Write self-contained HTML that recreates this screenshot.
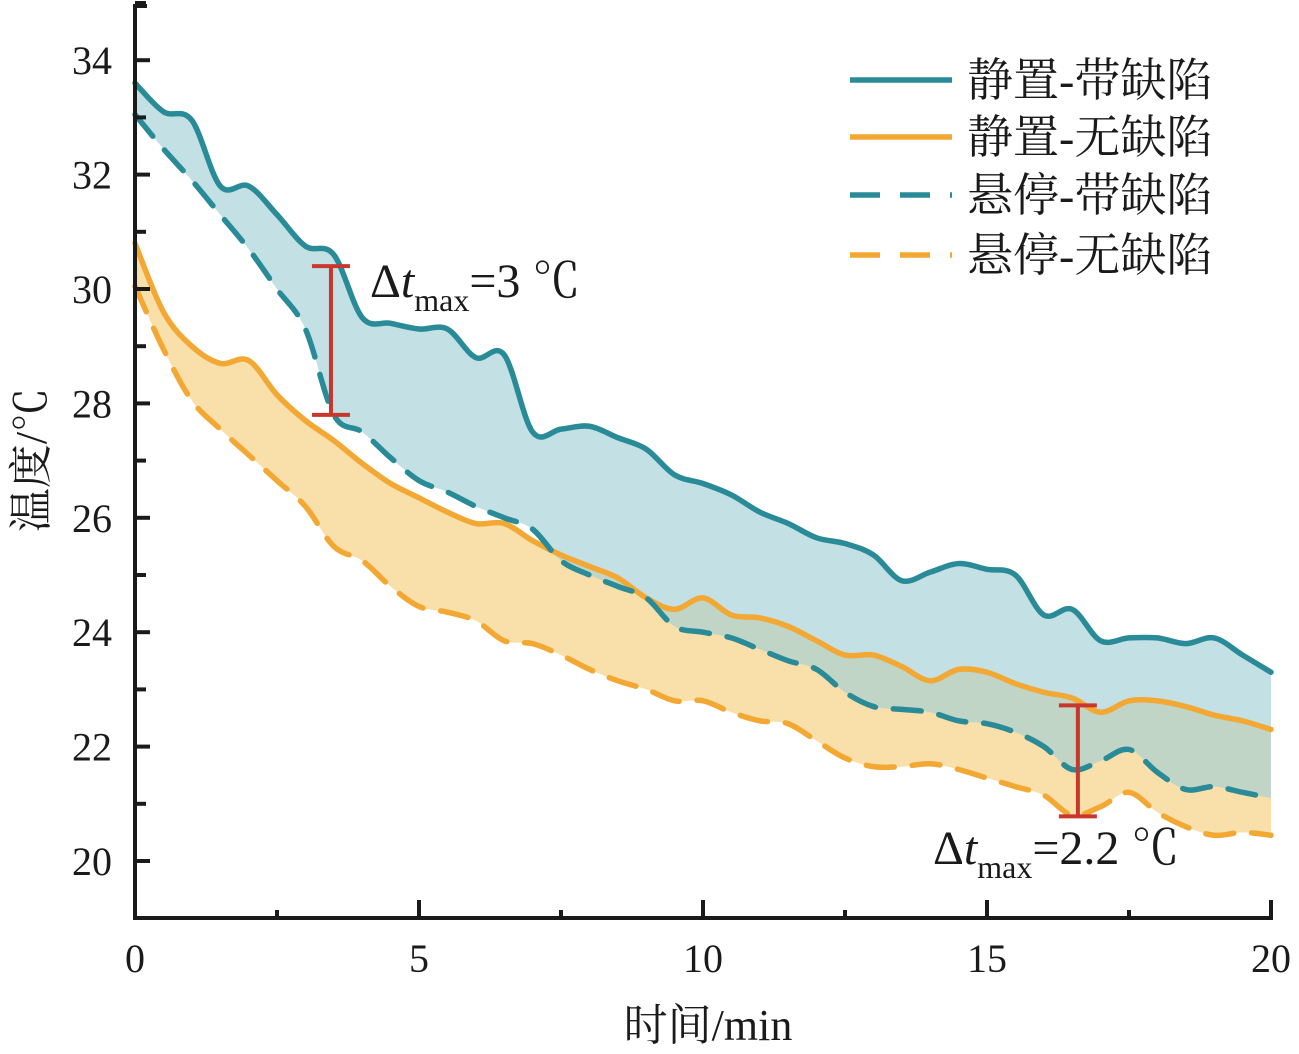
<!DOCTYPE html>
<html><head><meta charset="utf-8"><style>
html,body{margin:0;padding:0;background:#fff;}
svg text{font-family:"Liberation Serif","Noto Serif CJK SC",serif;fill:#1a1a1a;}
</style></head><body>
<svg id="chart" width="1299" height="1049" xmlns="http://www.w3.org/2000/svg">
<g id="fills"></g><g id="lines"></g><g id="axes"></g><g id="annot"></g><g id="legend"></g>
</svg>
<script>
const times = [0,0.5,1,1.5,2,2.5,3,3.5,4,4.5,5,5.5,6,6.5,7,7.5,8,8.5,9,9.5,10,10.5,11,11.5,12,12.5,13,13.5,14,14.5,15,15.5,16,16.5,17,17.5,18,18.5,19,19.5,20];
const staticDefect = [33.6,33.1,32.95,31.8,31.8,31.3,30.75,30.6,29.5,29.4,29.3,29.3,28.8,28.85,27.5,27.55,27.6,27.4,27.2,26.75,26.6,26.4,26.1,25.9,25.65,25.55,25.35,24.9,25.05,25.2,25.1,25.0,24.3,24.4,23.85,23.9,23.9,23.8,23.9,23.6,23.3];
const staticClean = [30.8,29.6,29.0,28.7,28.75,28.15,27.7,27.35,26.95,26.6,26.35,26.1,25.9,25.9,25.6,25.35,25.15,24.95,24.6,24.4,24.6,24.3,24.25,24.1,23.85,23.6,23.6,23.4,23.15,23.35,23.3,23.1,22.95,22.85,22.6,22.8,22.8,22.7,22.55,22.45,22.3];
const hoverDefect = [33.05,32.45,31.9,31.3,30.7,30.0,29.3,27.8,27.5,27.05,26.65,26.45,26.2,26.0,25.8,25.25,25.0,24.8,24.6,24.1,24.0,23.9,23.7,23.5,23.35,22.95,22.7,22.65,22.6,22.45,22.4,22.25,22.0,21.6,21.75,21.95,21.55,21.25,21.3,21.2,21.1];
const hoverClean = [30.05,28.95,28.05,27.55,27.1,26.65,26.2,25.5,25.25,24.8,24.45,24.35,24.2,23.85,23.8,23.6,23.35,23.15,23.0,22.8,22.8,22.6,22.45,22.4,22.1,21.8,21.65,21.65,21.7,21.6,21.45,21.3,21.15,20.8,20.95,21.2,20.85,20.6,20.45,20.5,20.45];
const yTicks = [20,22,24,26,28,30,32,34];
const xTicks = [0,5,10,15,20];
const seriesNames = ["静置-带缺陷","静置-无缺陷","悬停-带缺陷","悬停-无缺陷"];
const diff1 = [3.45,30.4,27.8,"3"];
const diff2 = [16.6,22.72,20.78,"2.2"];

const X0=135,X1=1271,Y0=918,Ytop=4;
const xs=t=>X0+(t-0)/20*(X1-X0);
const ys=v=>861-(v-20)*57.2;
const NS="http://www.w3.org/2000/svg";
function mk(tag,attrs,parent){const e=document.createElementNS(NS,tag);for(const k in attrs)e.setAttribute(k,attrs[k]);parent.appendChild(e);return e;}
function pts(arr){return arr.map((v,i)=>[xs(times[i]),ys(v)]);}
function smooth(p){let d="";for(let i=0;i<p.length-1;i++){const p0=p[Math.max(i-1,0)],p1=p[i],p2=p[i+1],p3=p[Math.min(i+2,p.length-1)];const c1=[p1[0]+(p2[0]-p0[0])/6,p1[1]+(p2[1]-p0[1])/6],c2=[p2[0]-(p3[0]-p1[0])/6,p2[1]-(p3[1]-p1[1])/6];d+=` C${c1[0]},${c1[1]} ${c2[0]},${c2[1]} ${p2[0]},${p2[1]}`;}return d;}
function linePath(a){const p=pts(a);return `M${p[0][0]},${p[0][1]}`+smooth(p);}
function areaPath(a,b){const p=pts(a),q=pts(b).reverse();return `M${p[0][0]},${p[0][1]}`+smooth(p)+` L${q[0][0]},${q[0][1]}`+smooth(q)+"Z";}
const F=document.getElementById('fills'),L=document.getElementById('lines'),A=document.getElementById('axes'),N=document.getElementById('annot'),G=document.getElementById('legend');
const TEAL="#2a8b98",ORG="#f2a833";
let e;
e=mk('path',{d:areaPath(staticClean,hoverClean),fill:"#f9dfa9"},F);


e=mk('path',{d:areaPath(staticDefect,hoverDefect),fill:"#a3d0d5","fill-opacity":"0.65"},F);


const series=[[staticDefect,TEAL,""],[staticClean,ORG,""],[hoverDefect,TEAL,"28 18"],[hoverClean,ORG,"28 18"]];
const lnames=['line-static-defect','line-static-no-defect','line-hover-defect','line-hover-no-defect'];
series.forEach((s,i)=>{e=mk('path',{d:linePath(s[0]),fill:"none",stroke:s[1],"stroke-width":5.5,"stroke-dasharray":s[2],"stroke-linecap":"round"},L);

});
// axes
e=mk('line',{x1:X0,y1:Ytop,x2:X0,y2:Y0+2,stroke:"#1a1a1a","stroke-width":4},A);


e=mk('line',{x1:X0-2,y1:Y0,x2:X1+2,y2:Y0,stroke:"#1a1a1a","stroke-width":4},A);


mk('line',{x1:X0,y1:Ytop+2,x2:X0+12,y2:Ytop+2,stroke:"#1a1a1a","stroke-width":4},A);
for(let v=20;v<=35;v++){const maj=v%2===0;mk('line',{x1:X0,y1:ys(v),x2:X0+(maj?15:11),y2:ys(v),stroke:"#1a1a1a","stroke-width":4},A);}
yTicks.forEach(v=>{e=mk('text',{x:112,y:ys(v)+14,"text-anchor":"end","font-size":40},A);e.textContent=v;

});
for(let t=0;t<=20;t+=2.5){const maj=t%5===0;mk('line',{x1:xs(t),y1:Y0,x2:xs(t),y2:Y0-(maj?18:8),stroke:"#1a1a1a","stroke-width":4},A);}
xTicks.forEach(t=>{e=mk('text',{x:xs(t),y:972,"text-anchor":"middle","font-size":40},A);e.textContent=t;

});
e=mk('text',{x:708,y:1040,"text-anchor":"middle","font-size":44},A);e.textContent="时间/min";


e=mk('text',{x:0,y:0,"text-anchor":"middle","font-size":44,transform:"translate(46,460) rotate(-90)"},A);e.textContent="温度/℃";


// annotations
function diffBar(d,tx,ty,name){const x=xs(d[0]);const g=mk('g',{},N);


mk('line',{x1:x,y1:ys(d[1]),x2:x,y2:ys(d[2]),stroke:"#c8372d","stroke-width":4},g);
mk('line',{x1:x-19,y1:ys(d[1]),x2:x+19,y2:ys(d[1]),stroke:"#c8372d","stroke-width":4},g);
mk('line',{x1:x-19,y1:ys(d[2]),x2:x+19,y2:ys(d[2]),stroke:"#c8372d","stroke-width":4},g);
const t=mk('text',{x:tx,y:ty,"font-size":48},g);
t.innerHTML=`Δ<tspan font-style="italic">t</tspan><tspan font-size="32" dy="14">max</tspan><tspan dy="-14">=${d[3]} ℃</tspan>`;}
diffBar(diff1,370,297,'delta-annotation-1');
diffBar(diff2,933,864,'delta-annotation-2');
// legend
const ly=[80,137,195,255];
series.forEach((s,i)=>{const g=mk('g',{},G);


mk('line',{x1:850,y1:ly[i],x2:952,y2:ly[i],stroke:s[1],"stroke-width":5.5,"stroke-dasharray":s[2]?"30 20":""},g);
const t=mk('text',{x:967,y:ly[i]+16,"font-size":46},g);t.textContent=seriesNames[i];});
</script>
</body></html>
